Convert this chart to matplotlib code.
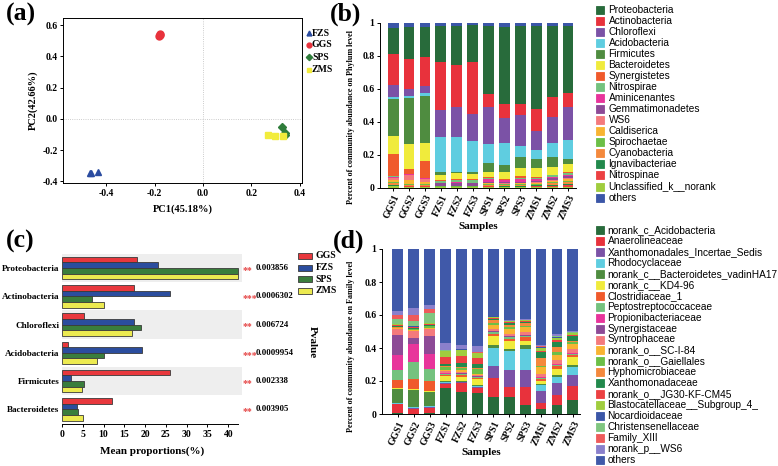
import matplotlib.pyplot as plt
import matplotlib.transforms as mtransforms
from matplotlib.patches import Rectangle
from matplotlib.lines import Line2D
import numpy as np

SERIF = 'Liberation Serif'
SANS = 'Liberation Sans'

# ---------------- (a) PCoA ----------------
pc_groups = ['FZS', 'GGS', 'SPS', 'ZMS']
pc1_FZS = [-0.470, -0.464, -0.436]
pc2_FZS = [-0.346, -0.346, -0.342]
pc1_GGS = [-0.182, -0.180, -0.178]
pc2_GGS = [0.528, 0.535, 0.540]
pc1_SPS = [0.328, 0.338, 0.340]
pc2_SPS = [-0.055, -0.092, -0.102]
pc1_ZMS = [0.270, 0.300, 0.330]
pc2_ZMS = [-0.100, -0.108, -0.110]

# ---------------- (b) phylum level ----------------
samples = ['GGS1', 'GGS2', 'GGS3', 'FZS1', 'FZS2', 'FZS3',
           'SPS1', 'SPS2', 'SPS3', 'ZMS1', 'ZMS2', 'ZMS3']
phyla = ['Proteobacteria', 'Actinobacteria', 'Chloroflexi', 'Acidobacteria',
         'Firmicutes', 'Bacteroidetes', 'Synergistetes', 'Nitrospirae',
         'Aminicenantes', 'Gemmatimonadetes', 'WS6', 'Caldiserica',
         'Spirochaetae', 'Cyanobacteria', 'Ignavibacteriae', 'Nitrospinae',
         'Unclassified_k__norank', 'others']
phy_GGS1 = [0.158, 0.188, 0.075, 0.012, 0.220, 0.113, 0.133, 0.003, 0.006, 0.003, 0.010, 0.012, 0.008, 0.012, 0.003, 0.004, 0.008, 0.032]
phy_GGS2 = [0.194, 0.182, 0.040, 0.011, 0.282, 0.150, 0.028, 0.002, 0.004, 0.002, 0.030, 0.025, 0.006, 0.006, 0.002, 0.002, 0.006, 0.028]
phy_GGS3 = [0.178, 0.178, 0.044, 0.014, 0.285, 0.111, 0.101, 0.002, 0.005, 0.003, 0.015, 0.012, 0.006, 0.008, 0.002, 0.003, 0.005, 0.028]
phy_FZS1 = [0.216, 0.294, 0.161, 0.216, 0.019, 0.029, 0.002, 0.012, 0.002, 0.018, 0.001, 0.001, 0.004, 0.001, 0.001, 0.001, 0.002, 0.020]
phy_FZS2 = [0.239, 0.252, 0.182, 0.214, 0.008, 0.035, 0.003, 0.015, 0.003, 0.020, 0.001, 0.001, 0.004, 0.001, 0.001, 0.001, 0.002, 0.018]
phy_FZS3 = [0.224, 0.316, 0.163, 0.188, 0.010, 0.033, 0.003, 0.016, 0.002, 0.018, 0.001, 0.001, 0.004, 0.001, 0.001, 0.001, 0.002, 0.016]
phy_SPS1 = [0.414, 0.079, 0.222, 0.115, 0.052, 0.033, 0.008, 0.006, 0.015, 0.006, 0.004, 0.004, 0.006, 0.004, 0.004, 0.004, 0.004, 0.020]
phy_SPS2 = [0.471, 0.085, 0.150, 0.130, 0.045, 0.040, 0.006, 0.005, 0.010, 0.006, 0.004, 0.004, 0.005, 0.004, 0.004, 0.003, 0.004, 0.024]
phy_SPS3 = [0.475, 0.065, 0.187, 0.065, 0.068, 0.050, 0.012, 0.006, 0.015, 0.006, 0.004, 0.004, 0.008, 0.004, 0.004, 0.003, 0.004, 0.020]
phy_ZMS1 = [0.505, 0.130, 0.117, 0.054, 0.057, 0.054, 0.006, 0.006, 0.008, 0.008, 0.004, 0.006, 0.006, 0.005, 0.006, 0.004, 0.004, 0.020]
phy_ZMS2 = [0.433, 0.117, 0.157, 0.089, 0.057, 0.047, 0.006, 0.008, 0.010, 0.008, 0.006, 0.008, 0.008, 0.008, 0.006, 0.006, 0.006, 0.020]
phy_ZMS3 = [0.408, 0.081, 0.202, 0.117, 0.029, 0.046, 0.010, 0.007, 0.012, 0.010, 0.006, 0.010, 0.008, 0.010, 0.010, 0.008, 0.006, 0.020]
phylum_colors = ['#286b3b', '#e8323c', '#7b52a6', '#5fcde0', '#4f8c40', '#f0eb3c',
                 '#f05a2c', '#74c27e', '#e8359b', '#8d4a96', '#f47a7c', '#f8b432',
                 '#6cbf47', '#f4893d', '#22894c', '#ec4142', '#a0cd3e', '#3b56a7']

# ---------------- (c) differential phyla ----------------
diff_taxa = ['Proteobacteria', 'Actinobacteria', 'Chloroflexi',
             'Acidobacteria', 'Firmicutes', 'Bacteroidetes']
diff_groups = ['GGS', 'FZS', 'SPS', 'ZMS']
mean_GGS = [18.1, 17.3, 5.2, 1.4, 25.9, 12.0]
mean_FZS = [23.0, 26.0, 17.3, 19.2, 2.1, 3.6]
mean_SPS = [42.3, 7.1, 19.1, 10.1, 5.4, 3.8]
mean_ZMS = [42.3, 10.0, 16.8, 8.3, 4.9, 5.0]
p_values = ['0.003856', '0.0006302', '0.006724', '0.0009954', '0.002338', '0.003905']
p_stars = ['**', '***', '**', '***', '**', '**']
diff_colors = ['#e8383d', '#2b4d9e', '#3a7d3c', '#ecea50']

# ---------------- (d) family level ----------------
families = ['norank_c_Acidobacteria', 'Anaerolineaceae', 'Xanthomonadales_Incertae_Sedis',
            'Rhodocyclaceae', 'norank_c__Bacteroidetes_vadinHA17', 'norank_c__KD4-96',
            'Clostridiaceae_1', 'Peptostreptococcaceae', 'Propionibacteriaceae',
            'Synergistaceae', 'Syntrophaceae', 'norank_o__SC-I-84', 'norank_o__Gaiellales',
            'Hyphomicrobiaceae', 'Xanthomonadaceae', 'norank_o__JG30-KF-CM45',
            'Blastocatellaceae__Subgroup_4_', 'Nocardioidaceae', 'Christensenellaceae',
            'Family_XIII', 'norank_p__WS6', 'others']
fam_GGS1 = [0.004, 0.054, 0.004, 0.006, 0.085, 0.003, 0.050, 0.058, 0.091, 0.125, 0.035, 0.005, 0.003, 0.004, 0.004, 0.008, 0.004, 0.003, 0.030, 0.027, 0.022, 0.375]
fam_GGS2 = [0.003, 0.028, 0.004, 0.006, 0.107, 0.002, 0.060, 0.103, 0.110, 0.035, 0.045, 0.004, 0.008, 0.003, 0.004, 0.006, 0.002, 0.002, 0.033, 0.035, 0.040, 0.360]
fam_GGS3 = [0.005, 0.030, 0.005, 0.008, 0.087, 0.003, 0.062, 0.073, 0.092, 0.105, 0.045, 0.004, 0.012, 0.004, 0.005, 0.007, 0.003, 0.002, 0.058, 0.028, 0.022, 0.340]
fam_FZS1 = [0.155, 0.025, 0.008, 0.004, 0.006, 0.030, 0.008, 0.006, 0.004, 0.004, 0.008, 0.010, 0.018, 0.006, 0.014, 0.040, 0.034, 0.002, 0.003, 0.003, 0.045, 0.567]
fam_FZS2 = [0.135, 0.050, 0.006, 0.004, 0.005, 0.027, 0.008, 0.006, 0.004, 0.004, 0.008, 0.010, 0.012, 0.006, 0.025, 0.043, 0.037, 0.002, 0.002, 0.002, 0.020, 0.584]
fam_FZS3 = [0.126, 0.034, 0.006, 0.004, 0.004, 0.036, 0.008, 0.006, 0.003, 0.003, 0.006, 0.008, 0.030, 0.006, 0.022, 0.036, 0.030, 0.002, 0.002, 0.002, 0.036, 0.590]
fam_SPS1 = [0.103, 0.117, 0.073, 0.109, 0.014, 0.056, 0.014, 0.008, 0.004, 0.004, 0.012, 0.028, 0.012, 0.018, 0.006, 0.006, 0.006, 0.001, 0.001, 0.001, 0.003, 0.404]
fam_SPS2 = [0.103, 0.062, 0.099, 0.115, 0.015, 0.046, 0.016, 0.008, 0.004, 0.004, 0.012, 0.030, 0.012, 0.016, 0.008, 0.006, 0.006, 0.001, 0.001, 0.001, 0.002, 0.433]
fam_SPS3 = [0.056, 0.105, 0.103, 0.132, 0.020, 0.027, 0.021, 0.008, 0.003, 0.003, 0.022, 0.026, 0.010, 0.016, 0.006, 0.006, 0.004, 0.001, 0.001, 0.001, 0.002, 0.427]
fam_ZMS1 = [0.030, 0.034, 0.074, 0.035, 0.010, 0.018, 0.012, 0.006, 0.004, 0.003, 0.014, 0.042, 0.010, 0.048, 0.036, 0.006, 0.018, 0.004, 0.004, 0.004, 0.008, 0.580]
fam_ZMS2 = [0.053, 0.061, 0.076, 0.032, 0.016, 0.034, 0.018, 0.008, 0.004, 0.004, 0.020, 0.034, 0.014, 0.034, 0.030, 0.010, 0.014, 0.004, 0.004, 0.004, 0.008, 0.518]
fam_ZMS3 = [0.083, 0.087, 0.065, 0.050, 0.014, 0.045, 0.012, 0.008, 0.004, 0.004, 0.024, 0.030, 0.012, 0.006, 0.028, 0.006, 0.012, 0.003, 0.003, 0.003, 0.005, 0.496]
family_colors = phylum_colors[:17] + ['#3b56a7', '#80c680', '#ee5b5b', '#8a80cc', '#4059a9']

W, H = 778, 466


def fx(px):
    return px / W


def fy(py):
    return 1 - py / H


def bold_serif(size):
    return dict(family=SERIF, weight='bold', size=size)


def style_ticks(ax, size=7):
    for lab in ax.get_xticklabels() + ax.get_yticklabels():
        lab.set_fontfamily(SERIF)
        lab.set_fontweight('bold')
        lab.set_fontsize(size)
    ax.tick_params(length=2.5, width=0.7, pad=1.5)


def manual_legend(fig, labels, colors, x_patch, x_text, y0, dy, w=9, h=8,
                  font=None, edge=None):
    for i, (lab, col) in enumerate(zip(labels, colors)):
        yc = y0 + i * dy
        fig.add_artist(Rectangle((fx(x_patch), fy(yc + h / 2)), w / W, h / H,
                                 transform=fig.transFigure, facecolor=col,
                                 edgecolor=edge if edge else col, linewidth=0.6))
        fig.text(fx(x_text), fy(yc), lab, va='center', ha='left', **font)


fig = plt.figure(figsize=(7.78, 4.66), dpi=100)

# ---------- panel (a) ----------
axa = fig.add_axes([fx(63), fy(183), fx(302 - 63), (183 - 18) / H])
axa.axvline(0, color='#bbbbbb', lw=0.6, ls=':')
axa.axhline(0, color='#bbbbbb', lw=0.6, ls=':')
pc_style = {'FZS': ('^', '#2b4ca0'), 'GGS': ('o', '#e8323c'),
            'SPS': ('D', '#2f7d3b'), 'ZMS': ('s', '#f2ec3c')}
pc_data = {'FZS': (pc1_FZS, pc2_FZS), 'GGS': (pc1_GGS, pc2_GGS),
           'SPS': (pc1_SPS, pc2_SPS), 'ZMS': (pc1_ZMS, pc2_ZMS)}
for g in pc_groups:
    m, c = pc_style[g]
    ms = 4.5 if m == 'D' else 5
    axa.plot(pc_data[g][0], pc_data[g][1], ls='none', marker=m, color=c, ms=ms,
             mec=c)
axa.set_xlim(-0.58, 0.41)
axa.set_ylim(-0.41, 0.645)
axa.set_xticks([-0.4, -0.2, 0.0, 0.2, 0.4])
axa.set_yticks([-0.4, -0.2, 0.0, 0.2, 0.4, 0.6])
axa.xaxis.set_major_formatter(plt.FormatStrFormatter('%.1f'))
axa.yaxis.set_major_formatter(plt.FormatStrFormatter('%.1f'))
for s in axa.spines.values():
    s.set_linewidth(0.7)
style_ticks(axa)
axa.set_xlabel('PC1(45.18%)', labelpad=5, **bold_serif(7.5))
axa.set_ylabel('PC2(42.66%)', labelpad=3, **bold_serif(7.5))
for i, g in enumerate(pc_groups):
    m, c = pc_style[g]
    yc = [33, 44.5, 57, 69.5][i]
    fig.add_artist(Line2D([fx(308.5)], [fy(yc)], marker=m, color=c,
                          ms=3.5 if m != 'D' else 3.2, ls='none',
                          transform=fig.transFigure))
    fig.text(fx(312), fy(yc), g, va='center', **bold_serif(7))

# ---------- panel (b) ----------
axb = fig.add_axes([fx(380), fy(187.7), fx(576 - 380), 165 / H])
xb = np.arange(len(samples))
phy = np.array([phy_GGS1, phy_GGS2, phy_GGS3, phy_FZS1, phy_FZS2, phy_FZS3,
                phy_SPS1, phy_SPS2, phy_SPS3, phy_ZMS1, phy_ZMS2, phy_ZMS3]).T
order_b = list(range(len(phyla) - 2, -1, -1)) + [len(phyla) - 1]
bottom = np.zeros(len(samples))
for i in order_b:
    axb.bar(xb, phy[i], width=0.68, bottom=bottom, color=phylum_colors[i], linewidth=0)
    bottom += phy[i]
axb.set_xlim(-0.83, 11.5)
axb.set_ylim(0, 1.0)
axb.set_yticks([0, 0.2, 0.4, 0.6, 0.8, 1.0])
axb.set_yticklabels(['0', '0.2', '0.4', '0.6', '0.8', '1'])
axb.set_xticks(xb)
axb.set_xticklabels(samples, rotation=65, ha='right', rotation_mode='anchor')
axb.spines['top'].set_visible(False)
axb.spines['right'].set_visible(False)
for s in axb.spines.values():
    s.set_linewidth(0.7)
style_ticks(axb, 7)
axb.set_ylabel('Percent of community abundance on Phylum level', **bold_serif(5.9))
axb.yaxis.set_label_coords(-0.128, 0.43)
axb.set_xlabel('Samples', labelpad=1, **bold_serif(8))
manual_legend(fig, phyla, phylum_colors, 596, 608.5, 9.7, 11.05, w=8, h=8,
              font=dict(family=SANS, size=7.3))

# ---------- panel (c) ----------
axc = fig.add_axes([fx(62), fy(424), fx(242 - 62), (424 - 254) / H])
yc_pos = np.arange(len(diff_taxa))
for k in range(0, len(diff_taxa), 2):
    axc.axhspan(k - 0.5, k + 0.5, color='#eeeeee', lw=0, zorder=0)
offsets = [-0.3, -0.1, 0.1, 0.3]
means = [mean_GGS, mean_FZS, mean_SPS, mean_ZMS]
for j in range(len(diff_groups)):
    axc.barh(yc_pos + offsets[j], means[j], height=0.2, color=diff_colors[j],
             edgecolor='#3a3a3a', linewidth=0.6, zorder=2)
axc.set_xlim(0, 43.3)
axc.set_ylim(5.52, -0.5)
axc.set_yticks(yc_pos)
axc.set_yticklabels(diff_taxa)
axc.set_xticks(np.arange(0, 41, 5))
axc.spines['top'].set_visible(False)
axc.spines['right'].set_visible(False)
axc.spines['left'].set_visible(False)
axc.spines['bottom'].set_bounds(0, 42.4)
axc.spines['bottom'].set_linewidth(0.7)
style_ticks(axc, 7)
for lab in axc.get_yticklabels():
    lab.set_fontsize(6.6)
axc.tick_params(axis='y', length=0, pad=2)
axc.set_xlabel('Mean proportions(%)', labelpad=6, **bold_serif(8))
trans = mtransforms.blended_transform_factory(axc.transAxes, axc.transData)
for k in range(len(diff_taxa)):
    axc.text(1.004, k + 0.08, p_stars[k], transform=trans, color='#e54545',
             va='center', ha='left', **bold_serif(7))
    axc.text(1.078, k, p_values[k], transform=trans, va='center', ha='left',
             **bold_serif(6.3))
fig.text(fx(312), fy(342), 'Pvalue', rotation=270, va='center', ha='center',
         **bold_serif(8))
manual_legend(fig, diff_groups, diff_colors, 298, 315.5, 256, 11.5, w=14, h=6,
              font=bold_serif(7), edge='#3a3a3a')

# ---------- panel (d) ----------
axd = fig.add_axes([fx(382), fy(414), fx(580 - 382), 165 / H])
xd = np.arange(len(samples))
fam = np.array([fam_GGS1, fam_GGS2, fam_GGS3, fam_FZS1, fam_FZS2, fam_FZS3,
                fam_SPS1, fam_SPS2, fam_SPS3, fam_ZMS1, fam_ZMS2, fam_ZMS3]).T
bottom = np.zeros(len(samples))
for i in range(len(families)):
    axd.bar(xd, fam[i], width=0.68, bottom=bottom, color=family_colors[i], linewidth=0)
    bottom += fam[i]
axd.set_xlim(-1.0, 11.45)
axd.set_ylim(0, 1.0)
axd.set_yticks([0, 0.2, 0.4, 0.6, 0.8, 1.0])
axd.set_yticklabels(['0', '0.2', '0.4', '0.6', '0.8', '1'])
axd.set_xticks(xd)
axd.set_xticklabels(samples, rotation=65, ha='right', rotation_mode='anchor')
axd.spines['top'].set_visible(False)
axd.spines['right'].set_visible(False)
for s in axd.spines.values():
    s.set_linewidth(0.7)
style_ticks(axd, 7)
axd.set_ylabel('Percent of community abundance on Family level', **bold_serif(5.9))
axd.yaxis.set_label_coords(-0.136, 0.41)
axd.set_xlabel('Samples', labelpad=1, **bold_serif(8))
manual_legend(fig, families, family_colors, 596, 607.5, 230, 10.95, w=8, h=8,
              font=dict(family=SANS, size=7.3))

# ---------- panel letters ----------
for lab, (px, py) in {'(a)': (6, 14), '(b)': (330, 14),
                      '(c)': (6, 241), '(d)': (333, 241)}.items():
    fig.text(fx(px), fy(py), lab, va='center', ha='left', **bold_serif(18.5))

fig.savefig('out.png', dpi=100)
